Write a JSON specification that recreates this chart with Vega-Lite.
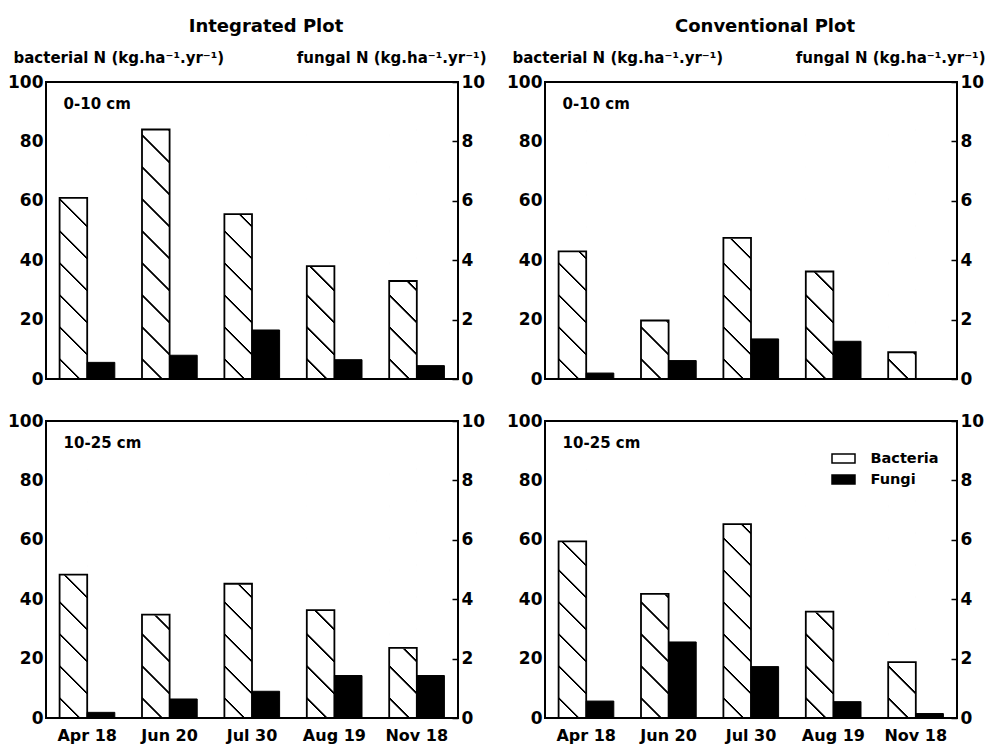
{
  "$schema": "https://vega.github.io/schema/vega-lite/v6.json",
  "background": "white",
  "padding": {"left": 6, "top": 17, "right": 5, "bottom": 5},
  "data": {"values": [
    {"plot": "Integrated", "depth": "0-10 cm", "date": "Apr 18", "series": "Bacteria", "value": 61},
    {"plot": "Integrated", "depth": "0-10 cm", "date": "Jun 20", "series": "Bacteria", "value": 84},
    {"plot": "Integrated", "depth": "0-10 cm", "date": "Jul 30", "series": "Bacteria", "value": 55.5},
    {"plot": "Integrated", "depth": "0-10 cm", "date": "Aug 19", "series": "Bacteria", "value": 38},
    {"plot": "Integrated", "depth": "0-10 cm", "date": "Nov 18", "series": "Bacteria", "value": 33},
    {"plot": "Integrated", "depth": "0-10 cm", "date": "Apr 18", "series": "Fungi", "value": 0.56},
    {"plot": "Integrated", "depth": "0-10 cm", "date": "Jun 20", "series": "Fungi", "value": 0.8},
    {"plot": "Integrated", "depth": "0-10 cm", "date": "Jul 30", "series": "Fungi", "value": 1.65},
    {"plot": "Integrated", "depth": "0-10 cm", "date": "Aug 19", "series": "Fungi", "value": 0.65},
    {"plot": "Integrated", "depth": "0-10 cm", "date": "Nov 18", "series": "Fungi", "value": 0.45},
    {"plot": "Conventional", "depth": "0-10 cm", "date": "Apr 18", "series": "Bacteria", "value": 43},
    {"plot": "Conventional", "depth": "0-10 cm", "date": "Jun 20", "series": "Bacteria", "value": 19.7},
    {"plot": "Conventional", "depth": "0-10 cm", "date": "Jul 30", "series": "Bacteria", "value": 47.5},
    {"plot": "Conventional", "depth": "0-10 cm", "date": "Aug 19", "series": "Bacteria", "value": 36.2},
    {"plot": "Conventional", "depth": "0-10 cm", "date": "Nov 18", "series": "Bacteria", "value": 9},
    {"plot": "Conventional", "depth": "0-10 cm", "date": "Apr 18", "series": "Fungi", "value": 0.2},
    {"plot": "Conventional", "depth": "0-10 cm", "date": "Jun 20", "series": "Fungi", "value": 0.62},
    {"plot": "Conventional", "depth": "0-10 cm", "date": "Jul 30", "series": "Fungi", "value": 1.35},
    {"plot": "Conventional", "depth": "0-10 cm", "date": "Aug 19", "series": "Fungi", "value": 1.27},
    {"plot": "Conventional", "depth": "0-10 cm", "date": "Nov 18", "series": "Fungi", "value": 0},
    {"plot": "Integrated", "depth": "10-25 cm", "date": "Apr 18", "series": "Bacteria", "value": 48.3},
    {"plot": "Integrated", "depth": "10-25 cm", "date": "Jun 20", "series": "Bacteria", "value": 34.8},
    {"plot": "Integrated", "depth": "10-25 cm", "date": "Jul 30", "series": "Bacteria", "value": 45.2},
    {"plot": "Integrated", "depth": "10-25 cm", "date": "Aug 19", "series": "Bacteria", "value": 36.3},
    {"plot": "Integrated", "depth": "10-25 cm", "date": "Nov 18", "series": "Bacteria", "value": 23.6},
    {"plot": "Integrated", "depth": "10-25 cm", "date": "Apr 18", "series": "Fungi", "value": 0.19},
    {"plot": "Integrated", "depth": "10-25 cm", "date": "Jun 20", "series": "Fungi", "value": 0.64},
    {"plot": "Integrated", "depth": "10-25 cm", "date": "Jul 30", "series": "Fungi", "value": 0.9},
    {"plot": "Integrated", "depth": "10-25 cm", "date": "Aug 19", "series": "Fungi", "value": 1.43},
    {"plot": "Integrated", "depth": "10-25 cm", "date": "Nov 18", "series": "Fungi", "value": 1.43},
    {"plot": "Conventional", "depth": "10-25 cm", "date": "Apr 18", "series": "Bacteria", "value": 59.5},
    {"plot": "Conventional", "depth": "10-25 cm", "date": "Jun 20", "series": "Bacteria", "value": 41.8},
    {"plot": "Conventional", "depth": "10-25 cm", "date": "Jul 30", "series": "Bacteria", "value": 65.3},
    {"plot": "Conventional", "depth": "10-25 cm", "date": "Aug 19", "series": "Bacteria", "value": 35.8},
    {"plot": "Conventional", "depth": "10-25 cm", "date": "Nov 18", "series": "Bacteria", "value": 18.8},
    {"plot": "Conventional", "depth": "10-25 cm", "date": "Apr 18", "series": "Fungi", "value": 0.57},
    {"plot": "Conventional", "depth": "10-25 cm", "date": "Jun 20", "series": "Fungi", "value": 2.56},
    {"plot": "Conventional", "depth": "10-25 cm", "date": "Jul 30", "series": "Fungi", "value": 1.73},
    {"plot": "Conventional", "depth": "10-25 cm", "date": "Aug 19", "series": "Fungi", "value": 0.55},
    {"plot": "Conventional", "depth": "10-25 cm", "date": "Nov 18", "series": "Fungi", "value": 0.15}
  ]},
  "columns": 2,
  "spacing": {"row": 23, "column": 18},
  "concat": [
    {
      "width": 412, "height": 297,
      "title": {"text": "Integrated Plot"},
      "transform": [{"filter": "datum.plot === 'Integrated' && datum.depth === '0-10 cm'"}],
      "layer": [
        {"layer": [
          {"transform": [{"filter": "datum.series === 'Bacteria'"}],
           "mark": {"type": "bar", "fill": {"gradient": "linear", "x1": 0, "y1": 1, "x2": 0.1127, "y2": -0.0916, "stops": [
             {"offset": 0, "color": "white"},
             {"offset": 0.0625, "color": "white"}, {"offset": 0.0650, "color": "black"}, {"offset": 0.0706, "color": "black"}, {"offset": 0.0731, "color": "white"},
             {"offset": 0.1710, "color": "white"}, {"offset": 0.1735, "color": "black"}, {"offset": 0.1791, "color": "black"}, {"offset": 0.1816, "color": "white"},
             {"offset": 0.2795, "color": "white"}, {"offset": 0.2820, "color": "black"}, {"offset": 0.2876, "color": "black"}, {"offset": 0.2901, "color": "white"},
             {"offset": 0.3881, "color": "white"}, {"offset": 0.3906, "color": "black"}, {"offset": 0.3962, "color": "black"}, {"offset": 0.3987, "color": "white"},
             {"offset": 0.4966, "color": "white"}, {"offset": 0.4991, "color": "black"}, {"offset": 0.5047, "color": "black"}, {"offset": 0.5072, "color": "white"},
             {"offset": 0.6051, "color": "white"}, {"offset": 0.6076, "color": "black"}, {"offset": 0.6132, "color": "black"}, {"offset": 0.6157, "color": "white"},
             {"offset": 0.7136, "color": "white"}, {"offset": 0.7161, "color": "black"}, {"offset": 0.7217, "color": "black"}, {"offset": 0.7242, "color": "white"},
             {"offset": 0.8221, "color": "white"}, {"offset": 0.8246, "color": "black"}, {"offset": 0.8302, "color": "black"}, {"offset": 0.8327, "color": "white"},
             {"offset": 0.9307, "color": "white"}, {"offset": 0.9332, "color": "black"}, {"offset": 0.9388, "color": "black"}, {"offset": 0.9413, "color": "white"},
             {"offset": 1, "color": "white"}]}},
           "encoding": {
             "x": {"field": "date", "type": "nominal", "scale": {"domain": ["Apr 18", "Jun 20", "Jul 30", "Aug 19", "Nov 18"], "paddingInner": 0.33, "paddingOuter": 0.165}, "axis": {"labels": false, "ticks": false, "domain": false, "title": null}},
             "xOffset": {"field": "series", "type": "nominal", "scale": {"domain": ["Bacteria", "Fungi"], "paddingInner": 0, "paddingOuter": 0}},
             "y": {"datum": 90, "type": "quantitative", "scale": {"domain": [0, 100]}, "axis": {"title": "bacterial N (kg.ha⁻¹.yr⁻¹)", "values": [0, 20, 40, 60, 80, 100]}},
             "y2": {"datum": 0}
           }},
          {"transform": [{"filter": "datum.series === 'Bacteria'"}],
           "mark": {"type": "bar", "fill": "white", "stroke": "white", "strokeWidth": 1.5},
           "encoding": {
             "x": {"field": "date", "type": "nominal", "scale": {"domain": ["Apr 18", "Jun 20", "Jul 30", "Aug 19", "Nov 18"], "paddingInner": 0.33, "paddingOuter": 0.165}},
             "xOffset": {"field": "series", "type": "nominal", "scale": {"domain": ["Bacteria", "Fungi"], "paddingInner": 0, "paddingOuter": 0}},
             "y": {"field": "value", "type": "quantitative", "scale": {"domain": [0, 100]}},
             "y2": {"datum": 90}
           }},
          {"transform": [{"filter": "datum.series === 'Bacteria'"}],
           "mark": {"type": "bar", "fill": "transparent", "stroke": "black", "strokeWidth": 1.8},
           "encoding": {
             "x": {"field": "date", "type": "nominal", "scale": {"domain": ["Apr 18", "Jun 20", "Jul 30", "Aug 19", "Nov 18"], "paddingInner": 0.33, "paddingOuter": 0.165}},
             "xOffset": {"field": "series", "type": "nominal", "scale": {"domain": ["Bacteria", "Fungi"], "paddingInner": 0, "paddingOuter": 0}},
             "y": {"field": "value", "type": "quantitative", "scale": {"domain": [0, 100]}, "stack": null}
           }},
          {"transform": [{"filter": "datum.series === 'Bacteria' && datum.date === 'Apr 18'"}],
           "mark": {"type": "text", "align": "left", "baseline": "alphabetic", "dx": 4, "font": "DejaVu Sans", "fontWeight": "bold", "fontSize": 15, "color": "black"},
           "encoding": {
             "x": {"field": "date", "type": "nominal", "bandPosition": 0, "scale": {"domain": ["Apr 18", "Jun 20", "Jul 30", "Aug 19", "Nov 18"], "paddingInner": 0.33, "paddingOuter": 0.165}},
             "y": {"datum": 91, "type": "quantitative", "scale": {"domain": [0, 100]}},
             "text": {"field": "depth"}
           }}
        ]},
        {"transform": [{"filter": "datum.series === 'Fungi'"}],
         "mark": {"type": "bar", "stroke": "black", "strokeWidth": 1},
         "encoding": {
           "x": {"field": "date", "type": "nominal", "scale": {"domain": ["Apr 18", "Jun 20", "Jul 30", "Aug 19", "Nov 18"], "paddingInner": 0.33, "paddingOuter": 0.165}},
           "xOffset": {"field": "series", "type": "nominal", "scale": {"domain": ["Bacteria", "Fungi"], "paddingInner": 0, "paddingOuter": 0}},
           "y": {"field": "value", "type": "quantitative", "stack": null, "scale": {"domain": [0, 10]}, "axis": {"orient": "right", "title": "fungal N (kg.ha⁻¹.yr⁻¹)", "values": [0, 2, 4, 6, 8, 10]}},
           "fill": {"field": "series", "type": "nominal", "scale": {"domain": ["Bacteria", "Fungi"], "range": ["white", "black"]}, "legend": {"title": null}}
         }}
      ],
      "resolve": {"scale": {"y": "independent"}}
    },
    {
      "width": 412, "height": 297,
      "title": {"text": "Conventional Plot"},
      "transform": [{"filter": "datum.plot === 'Conventional' && datum.depth === '0-10 cm'"}],
      "layer": [
        {"layer": [
          {"transform": [{"filter": "datum.series === 'Bacteria'"}],
           "mark": {"type": "bar", "fill": {"gradient": "linear", "x1": 0, "y1": 1, "x2": 0.1127, "y2": -0.0916, "stops": [
             {"offset": 0, "color": "white"},
             {"offset": 0.0625, "color": "white"}, {"offset": 0.0650, "color": "black"}, {"offset": 0.0706, "color": "black"}, {"offset": 0.0731, "color": "white"},
             {"offset": 0.1710, "color": "white"}, {"offset": 0.1735, "color": "black"}, {"offset": 0.1791, "color": "black"}, {"offset": 0.1816, "color": "white"},
             {"offset": 0.2795, "color": "white"}, {"offset": 0.2820, "color": "black"}, {"offset": 0.2876, "color": "black"}, {"offset": 0.2901, "color": "white"},
             {"offset": 0.3881, "color": "white"}, {"offset": 0.3906, "color": "black"}, {"offset": 0.3962, "color": "black"}, {"offset": 0.3987, "color": "white"},
             {"offset": 0.4966, "color": "white"}, {"offset": 0.4991, "color": "black"}, {"offset": 0.5047, "color": "black"}, {"offset": 0.5072, "color": "white"},
             {"offset": 0.6051, "color": "white"}, {"offset": 0.6076, "color": "black"}, {"offset": 0.6132, "color": "black"}, {"offset": 0.6157, "color": "white"},
             {"offset": 0.7136, "color": "white"}, {"offset": 0.7161, "color": "black"}, {"offset": 0.7217, "color": "black"}, {"offset": 0.7242, "color": "white"},
             {"offset": 0.8221, "color": "white"}, {"offset": 0.8246, "color": "black"}, {"offset": 0.8302, "color": "black"}, {"offset": 0.8327, "color": "white"},
             {"offset": 0.9307, "color": "white"}, {"offset": 0.9332, "color": "black"}, {"offset": 0.9388, "color": "black"}, {"offset": 0.9413, "color": "white"},
             {"offset": 1, "color": "white"}]}},
           "encoding": {
             "x": {"field": "date", "type": "nominal", "scale": {"domain": ["Apr 18", "Jun 20", "Jul 30", "Aug 19", "Nov 18"], "paddingInner": 0.33, "paddingOuter": 0.165}, "axis": {"labels": false, "ticks": false, "domain": false, "title": null}},
             "xOffset": {"field": "series", "type": "nominal", "scale": {"domain": ["Bacteria", "Fungi"], "paddingInner": 0, "paddingOuter": 0}},
             "y": {"datum": 90, "type": "quantitative", "scale": {"domain": [0, 100]}, "axis": {"title": "bacterial N (kg.ha⁻¹.yr⁻¹)", "values": [0, 20, 40, 60, 80, 100]}},
             "y2": {"datum": 0}
           }},
          {"transform": [{"filter": "datum.series === 'Bacteria'"}],
           "mark": {"type": "bar", "fill": "white", "stroke": "white", "strokeWidth": 1.5},
           "encoding": {
             "x": {"field": "date", "type": "nominal", "scale": {"domain": ["Apr 18", "Jun 20", "Jul 30", "Aug 19", "Nov 18"], "paddingInner": 0.33, "paddingOuter": 0.165}},
             "xOffset": {"field": "series", "type": "nominal", "scale": {"domain": ["Bacteria", "Fungi"], "paddingInner": 0, "paddingOuter": 0}},
             "y": {"field": "value", "type": "quantitative", "scale": {"domain": [0, 100]}},
             "y2": {"datum": 90}
           }},
          {"transform": [{"filter": "datum.series === 'Bacteria'"}],
           "mark": {"type": "bar", "fill": "transparent", "stroke": "black", "strokeWidth": 1.8},
           "encoding": {
             "x": {"field": "date", "type": "nominal", "scale": {"domain": ["Apr 18", "Jun 20", "Jul 30", "Aug 19", "Nov 18"], "paddingInner": 0.33, "paddingOuter": 0.165}},
             "xOffset": {"field": "series", "type": "nominal", "scale": {"domain": ["Bacteria", "Fungi"], "paddingInner": 0, "paddingOuter": 0}},
             "y": {"field": "value", "type": "quantitative", "scale": {"domain": [0, 100]}, "stack": null}
           }},
          {"transform": [{"filter": "datum.series === 'Bacteria' && datum.date === 'Apr 18'"}],
           "mark": {"type": "text", "align": "left", "baseline": "alphabetic", "dx": 4, "font": "DejaVu Sans", "fontWeight": "bold", "fontSize": 15, "color": "black"},
           "encoding": {
             "x": {"field": "date", "type": "nominal", "bandPosition": 0, "scale": {"domain": ["Apr 18", "Jun 20", "Jul 30", "Aug 19", "Nov 18"], "paddingInner": 0.33, "paddingOuter": 0.165}},
             "y": {"datum": 91, "type": "quantitative", "scale": {"domain": [0, 100]}},
             "text": {"field": "depth"}
           }}
        ]},
        {"transform": [{"filter": "datum.series === 'Fungi'"}],
         "mark": {"type": "bar", "stroke": "black", "strokeWidth": 1},
         "encoding": {
           "x": {"field": "date", "type": "nominal", "scale": {"domain": ["Apr 18", "Jun 20", "Jul 30", "Aug 19", "Nov 18"], "paddingInner": 0.33, "paddingOuter": 0.165}},
           "xOffset": {"field": "series", "type": "nominal", "scale": {"domain": ["Bacteria", "Fungi"], "paddingInner": 0, "paddingOuter": 0}},
           "y": {"field": "value", "type": "quantitative", "stack": null, "scale": {"domain": [0, 10]}, "axis": {"orient": "right", "title": "fungal N (kg.ha⁻¹.yr⁻¹)", "values": [0, 2, 4, 6, 8, 10]}},
           "fill": {"field": "series", "type": "nominal", "scale": {"domain": ["Bacteria", "Fungi"], "range": ["white", "black"]}, "legend": {"title": null}}
         }}
      ],
      "resolve": {"scale": {"y": "independent"}}
    },
    {
      "width": 412, "height": 297,
      "transform": [{"filter": "datum.plot === 'Integrated' && datum.depth === '10-25 cm'"}],
      "layer": [
        {"layer": [
          {"transform": [{"filter": "datum.series === 'Bacteria'"}],
           "mark": {"type": "bar", "fill": {"gradient": "linear", "x1": 0, "y1": 1, "x2": 0.1127, "y2": -0.0916, "stops": [
             {"offset": 0, "color": "white"},
             {"offset": 0.0625, "color": "white"}, {"offset": 0.0650, "color": "black"}, {"offset": 0.0706, "color": "black"}, {"offset": 0.0731, "color": "white"},
             {"offset": 0.1710, "color": "white"}, {"offset": 0.1735, "color": "black"}, {"offset": 0.1791, "color": "black"}, {"offset": 0.1816, "color": "white"},
             {"offset": 0.2795, "color": "white"}, {"offset": 0.2820, "color": "black"}, {"offset": 0.2876, "color": "black"}, {"offset": 0.2901, "color": "white"},
             {"offset": 0.3881, "color": "white"}, {"offset": 0.3906, "color": "black"}, {"offset": 0.3962, "color": "black"}, {"offset": 0.3987, "color": "white"},
             {"offset": 0.4966, "color": "white"}, {"offset": 0.4991, "color": "black"}, {"offset": 0.5047, "color": "black"}, {"offset": 0.5072, "color": "white"},
             {"offset": 0.6051, "color": "white"}, {"offset": 0.6076, "color": "black"}, {"offset": 0.6132, "color": "black"}, {"offset": 0.6157, "color": "white"},
             {"offset": 0.7136, "color": "white"}, {"offset": 0.7161, "color": "black"}, {"offset": 0.7217, "color": "black"}, {"offset": 0.7242, "color": "white"},
             {"offset": 0.8221, "color": "white"}, {"offset": 0.8246, "color": "black"}, {"offset": 0.8302, "color": "black"}, {"offset": 0.8327, "color": "white"},
             {"offset": 0.9307, "color": "white"}, {"offset": 0.9332, "color": "black"}, {"offset": 0.9388, "color": "black"}, {"offset": 0.9413, "color": "white"},
             {"offset": 1, "color": "white"}]}},
           "encoding": {
             "x": {"field": "date", "type": "nominal", "scale": {"domain": ["Apr 18", "Jun 20", "Jul 30", "Aug 19", "Nov 18"], "paddingInner": 0.33, "paddingOuter": 0.165}, "axis": {"ticks": false, "domain": false, "title": null, "labelAngle": 0}},
             "xOffset": {"field": "series", "type": "nominal", "scale": {"domain": ["Bacteria", "Fungi"], "paddingInner": 0, "paddingOuter": 0}},
             "y": {"datum": 90, "type": "quantitative", "scale": {"domain": [0, 100]}, "axis": {"title": null, "values": [0, 20, 40, 60, 80, 100]}},
             "y2": {"datum": 0}
           }},
          {"transform": [{"filter": "datum.series === 'Bacteria'"}],
           "mark": {"type": "bar", "fill": "white", "stroke": "white", "strokeWidth": 1.5},
           "encoding": {
             "x": {"field": "date", "type": "nominal", "scale": {"domain": ["Apr 18", "Jun 20", "Jul 30", "Aug 19", "Nov 18"], "paddingInner": 0.33, "paddingOuter": 0.165}},
             "xOffset": {"field": "series", "type": "nominal", "scale": {"domain": ["Bacteria", "Fungi"], "paddingInner": 0, "paddingOuter": 0}},
             "y": {"field": "value", "type": "quantitative", "scale": {"domain": [0, 100]}},
             "y2": {"datum": 90}
           }},
          {"transform": [{"filter": "datum.series === 'Bacteria'"}],
           "mark": {"type": "bar", "fill": "transparent", "stroke": "black", "strokeWidth": 1.8},
           "encoding": {
             "x": {"field": "date", "type": "nominal", "scale": {"domain": ["Apr 18", "Jun 20", "Jul 30", "Aug 19", "Nov 18"], "paddingInner": 0.33, "paddingOuter": 0.165}},
             "xOffset": {"field": "series", "type": "nominal", "scale": {"domain": ["Bacteria", "Fungi"], "paddingInner": 0, "paddingOuter": 0}},
             "y": {"field": "value", "type": "quantitative", "scale": {"domain": [0, 100]}, "stack": null}
           }},
          {"transform": [{"filter": "datum.series === 'Bacteria' && datum.date === 'Apr 18'"}],
           "mark": {"type": "text", "align": "left", "baseline": "alphabetic", "dx": 4, "font": "DejaVu Sans", "fontWeight": "bold", "fontSize": 15, "color": "black"},
           "encoding": {
             "x": {"field": "date", "type": "nominal", "bandPosition": 0, "scale": {"domain": ["Apr 18", "Jun 20", "Jul 30", "Aug 19", "Nov 18"], "paddingInner": 0.33, "paddingOuter": 0.165}},
             "y": {"datum": 91, "type": "quantitative", "scale": {"domain": [0, 100]}},
             "text": {"field": "depth"}
           }}
        ]},
        {"transform": [{"filter": "datum.series === 'Fungi'"}],
         "mark": {"type": "bar", "stroke": "black", "strokeWidth": 1},
         "encoding": {
           "x": {"field": "date", "type": "nominal", "scale": {"domain": ["Apr 18", "Jun 20", "Jul 30", "Aug 19", "Nov 18"], "paddingInner": 0.33, "paddingOuter": 0.165}},
           "xOffset": {"field": "series", "type": "nominal", "scale": {"domain": ["Bacteria", "Fungi"], "paddingInner": 0, "paddingOuter": 0}},
           "y": {"field": "value", "type": "quantitative", "stack": null, "scale": {"domain": [0, 10]}, "axis": {"orient": "right", "title": null, "values": [0, 2, 4, 6, 8, 10]}},
           "fill": {"field": "series", "type": "nominal", "scale": {"domain": ["Bacteria", "Fungi"], "range": ["white", "black"]}, "legend": {"title": null}}
         }}
      ],
      "resolve": {"scale": {"y": "independent"}}
    },
    {
      "width": 412, "height": 297,
      "transform": [{"filter": "datum.plot === 'Conventional' && datum.depth === '10-25 cm'"}],
      "layer": [
        {"layer": [
          {"transform": [{"filter": "datum.series === 'Bacteria'"}],
           "mark": {"type": "bar", "fill": {"gradient": "linear", "x1": 0, "y1": 1, "x2": 0.1127, "y2": -0.0916, "stops": [
             {"offset": 0, "color": "white"},
             {"offset": 0.0625, "color": "white"}, {"offset": 0.0650, "color": "black"}, {"offset": 0.0706, "color": "black"}, {"offset": 0.0731, "color": "white"},
             {"offset": 0.1710, "color": "white"}, {"offset": 0.1735, "color": "black"}, {"offset": 0.1791, "color": "black"}, {"offset": 0.1816, "color": "white"},
             {"offset": 0.2795, "color": "white"}, {"offset": 0.2820, "color": "black"}, {"offset": 0.2876, "color": "black"}, {"offset": 0.2901, "color": "white"},
             {"offset": 0.3881, "color": "white"}, {"offset": 0.3906, "color": "black"}, {"offset": 0.3962, "color": "black"}, {"offset": 0.3987, "color": "white"},
             {"offset": 0.4966, "color": "white"}, {"offset": 0.4991, "color": "black"}, {"offset": 0.5047, "color": "black"}, {"offset": 0.5072, "color": "white"},
             {"offset": 0.6051, "color": "white"}, {"offset": 0.6076, "color": "black"}, {"offset": 0.6132, "color": "black"}, {"offset": 0.6157, "color": "white"},
             {"offset": 0.7136, "color": "white"}, {"offset": 0.7161, "color": "black"}, {"offset": 0.7217, "color": "black"}, {"offset": 0.7242, "color": "white"},
             {"offset": 0.8221, "color": "white"}, {"offset": 0.8246, "color": "black"}, {"offset": 0.8302, "color": "black"}, {"offset": 0.8327, "color": "white"},
             {"offset": 0.9307, "color": "white"}, {"offset": 0.9332, "color": "black"}, {"offset": 0.9388, "color": "black"}, {"offset": 0.9413, "color": "white"},
             {"offset": 1, "color": "white"}]}},
           "encoding": {
             "x": {"field": "date", "type": "nominal", "scale": {"domain": ["Apr 18", "Jun 20", "Jul 30", "Aug 19", "Nov 18"], "paddingInner": 0.33, "paddingOuter": 0.165}, "axis": {"ticks": false, "domain": false, "title": null, "labelAngle": 0}},
             "xOffset": {"field": "series", "type": "nominal", "scale": {"domain": ["Bacteria", "Fungi"], "paddingInner": 0, "paddingOuter": 0}},
             "y": {"datum": 90, "type": "quantitative", "scale": {"domain": [0, 100]}, "axis": {"title": null, "values": [0, 20, 40, 60, 80, 100]}},
             "y2": {"datum": 0}
           }},
          {"transform": [{"filter": "datum.series === 'Bacteria'"}],
           "mark": {"type": "bar", "fill": "white", "stroke": "white", "strokeWidth": 1.5},
           "encoding": {
             "x": {"field": "date", "type": "nominal", "scale": {"domain": ["Apr 18", "Jun 20", "Jul 30", "Aug 19", "Nov 18"], "paddingInner": 0.33, "paddingOuter": 0.165}},
             "xOffset": {"field": "series", "type": "nominal", "scale": {"domain": ["Bacteria", "Fungi"], "paddingInner": 0, "paddingOuter": 0}},
             "y": {"field": "value", "type": "quantitative", "scale": {"domain": [0, 100]}},
             "y2": {"datum": 90}
           }},
          {"transform": [{"filter": "datum.series === 'Bacteria'"}],
           "mark": {"type": "bar", "fill": "transparent", "stroke": "black", "strokeWidth": 1.8},
           "encoding": {
             "x": {"field": "date", "type": "nominal", "scale": {"domain": ["Apr 18", "Jun 20", "Jul 30", "Aug 19", "Nov 18"], "paddingInner": 0.33, "paddingOuter": 0.165}},
             "xOffset": {"field": "series", "type": "nominal", "scale": {"domain": ["Bacteria", "Fungi"], "paddingInner": 0, "paddingOuter": 0}},
             "y": {"field": "value", "type": "quantitative", "scale": {"domain": [0, 100]}, "stack": null}
           }},
          {"transform": [{"filter": "datum.series === 'Bacteria' && datum.date === 'Apr 18'"}],
           "mark": {"type": "text", "align": "left", "baseline": "alphabetic", "dx": 4, "font": "DejaVu Sans", "fontWeight": "bold", "fontSize": 15, "color": "black"},
           "encoding": {
             "x": {"field": "date", "type": "nominal", "bandPosition": 0, "scale": {"domain": ["Apr 18", "Jun 20", "Jul 30", "Aug 19", "Nov 18"], "paddingInner": 0.33, "paddingOuter": 0.165}},
             "y": {"datum": 91, "type": "quantitative", "scale": {"domain": [0, 100]}},
             "text": {"field": "depth"}
           }}
        ]},
        {"transform": [{"filter": "datum.series === 'Fungi'"}],
         "mark": {"type": "bar", "stroke": "black", "strokeWidth": 1},
         "encoding": {
           "x": {"field": "date", "type": "nominal", "scale": {"domain": ["Apr 18", "Jun 20", "Jul 30", "Aug 19", "Nov 18"], "paddingInner": 0.33, "paddingOuter": 0.165}},
           "xOffset": {"field": "series", "type": "nominal", "scale": {"domain": ["Bacteria", "Fungi"], "paddingInner": 0, "paddingOuter": 0}},
           "y": {"field": "value", "type": "quantitative", "stack": null, "scale": {"domain": [0, 10]}, "axis": {"orient": "right", "title": null, "values": [0, 2, 4, 6, 8, 10]}},
           "fill": {"field": "series", "type": "nominal", "scale": {"domain": ["Bacteria", "Fungi"], "range": ["white", "black"]}, "legend": {"title": null}}
         }}
      ],
      "resolve": {"scale": {"y": "independent"}}
    }
  ],
  "config": {
    "font": "DejaVu Sans",
    "view": {"stroke": "black", "strokeWidth": 2},
    "axis": {"grid": false, "domain": false, "labelFont": "DejaVu Sans", "labelFontWeight": "bold", "labelColor": "black", "labelFontSize": 17, "titleFont": "DejaVu Sans", "titleFontWeight": "bold", "titleColor": "black", "titleFontSize": 15},
    "axisLeft": {"ticks": false, "labelPadding": 3, "titleAngle": 0, "titleAlign": "left", "titleBaseline": "alphabetic", "titleX": -33, "titleY": -20},
    "axisRight": {"ticks": true, "tickSize": -6, "tickColor": "black", "tickWidth": 1.5, "labelPadding": 9, "titleAngle": 0, "titleAlign": "right", "titleBaseline": "alphabetic", "titleX": 28, "titleY": -20},
    "axisBottom": {"ticks": false, "labelFontSize": 16, "labelPadding": 9, "labelAngle": 0},
    "title": {"font": "DejaVu Sans", "fontSize": 18, "fontWeight": "bold", "color": "black", "anchor": "middle", "frame": "group", "offset": 14, "dx": 14},
    "legend": {"orient": "none", "legendX": 786.5, "legendY": 365.5, "padding": 0, "symbolSize": 400, "symbolType": "M-1.15,-0.45H1.15V0.45H-1.15Z", "symbolStrokeColor": "black", "symbolStrokeWidth": 1.5, "labelOffset": 16, "rowPadding": 2, "labelFont": "DejaVu Sans", "labelFontWeight": "bold", "labelFontSize": 14.5, "labelColor": "black"}
  }
}
